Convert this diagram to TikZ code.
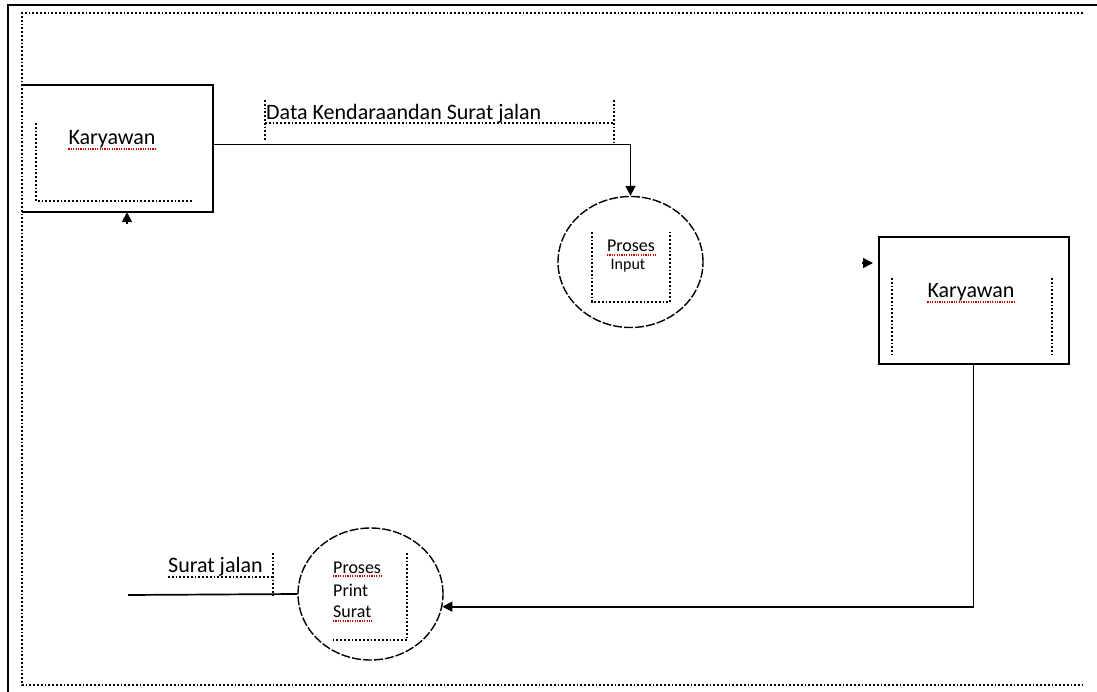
\documentclass[tikz,border=0pt]{standalone}
\usepackage{fontspec}
\setmainfont{Carlito}
\usetikzlibrary{arrows.meta,shapes.geometric}
\newcommand{\bigtxt}{\fontsize{22}{26}\selectfont}
\newcommand{\proctxt}{\fontsize{18}{22}\selectfont}

\begin{document}
\begin{tikzpicture}[x=1pt,y=-1pt,
  entity/.style={rectangle,minimum width=190pt,minimum height=127pt,inner sep=0pt},
  proc/.style={ellipse,draw,dash pattern=on 9pt off 2pt,line width=1.4pt,
    minimum width=145pt,minimum height=131pt,inner sep=0pt},
  txt/.style={inner sep=0pt,font=\bigtxt},
  ptxt/.style={inner sep=0pt,font=\proctxt},
  flow/.style={line width=1.7pt,-{Triangle[length=10pt,width=10pt]}},
  guide/.style={dash pattern=on 1.8pt off 2pt,line width=1.8pt},
  spell/.style={red!80!black,dash pattern=on 1.2pt off 1.2pt,line width=1.2pt}]
  \useasboundingbox (0,0) rectangle (1097,692);
  % page frame
  \draw[line width=2.2pt] (1097,5) -- (8,5) -- (8,692);
  \draw[guide] (1083,13) -- (22,13) -- (22,685) -- (1083,685);

  % external entity (left)
  \node[entity] (k1) at (117.5,148.5) {};
  \draw[line width=2pt] (k1.north west) -- (k1.north east) -- (k1.south east) -- (k1.south west);
  \draw[guide] (36,123) -- (36,201) -- (193,201);
  \node[txt,anchor=base] (k1t) at (112,145) {Karyawan};
  \draw[spell] ([yshift=-4pt]k1t.base west) -- ([yshift=-4pt]k1t.base east);
  \coordinate (up1) at (127,224);
  \draw[flow] (up1) -- (up1 |- k1.south);

  % process: input
  \node[proc] (c1) at (630.5,262) {};
  \draw[guide] (592,232) -- (592,302) -- (670,302) -- (670,232);
  \node[ptxt,anchor=base] (p1) at (631,252) {Proses};
  \draw[spell] ([yshift=-3pt]p1.base west) -- ([yshift=-3pt]p1.base east);
  \node[ptxt,anchor=base,font=\fontsize{16}{20}\selectfont] (p1b) at (628,270) {Input};

  % data flow label (top)
  \node[txt,anchor=base west] (dk) at (266,120) {Data Kendaraandan Surat jalan};
  \draw[guide] (265,100) -- (265,140);
  \draw[guide] (265,123) -- (614,123);
  \draw[guide] (614,100) -- (614,142);
  \draw[flow] ([yshift=4pt]k1.east) -| (c1.north);

  % external entity (right)
  \node[entity,draw,line width=2pt] (k2) at (973.5,300.5) {};
  \draw[guide] (892,278) -- (892,355);
  \draw[guide] (1052,278) -- (1052,355);
  \node[txt,anchor=base] (k2t) at (971,298) {Karyawan};
  \draw[spell] ([yshift=-4pt]k2t.base west) -- ([yshift=-4pt]k2t.base east);
  \coordinate (rt2) at (862,263);
  \draw[flow] (rt2) -- ++(11,0);

  % process: print surat
  \node[proc,minimum height=132pt] (c2) at (370.5,594) {};
  \draw[guide] (407,553) -- (407,640) -- (333,640);
  \node[ptxt,anchor=base west] (p2a) at (333,573) {Proses};
  \node[ptxt,anchor=base west] (p2b) at (333,596) {Print};
  \node[ptxt,anchor=base west] (p2c) at (333,617) {Surat};
  \draw[spell] ([yshift=-3pt]p2a.base west) -- ([yshift=-3pt]p2a.base east);
  \draw[spell] ([yshift=-4pt]p2c.base west) -- ([yshift=-4pt]p2c.base east);
  \draw[flow] (k2.south) |- (c2.-10);

  % data flow label (bottom)
  \node[txt,anchor=base west] (sj) at (168,572) {Surat jalan};
  \draw[guide] (168,577) -- (273,577);
  \draw[guide] (273,553) -- (273,595);
  \coordinate (sjend) at (128,595);
  \draw[line width=1.7pt] (c2.west) -- (sjend);
\end{tikzpicture}
\end{document}
